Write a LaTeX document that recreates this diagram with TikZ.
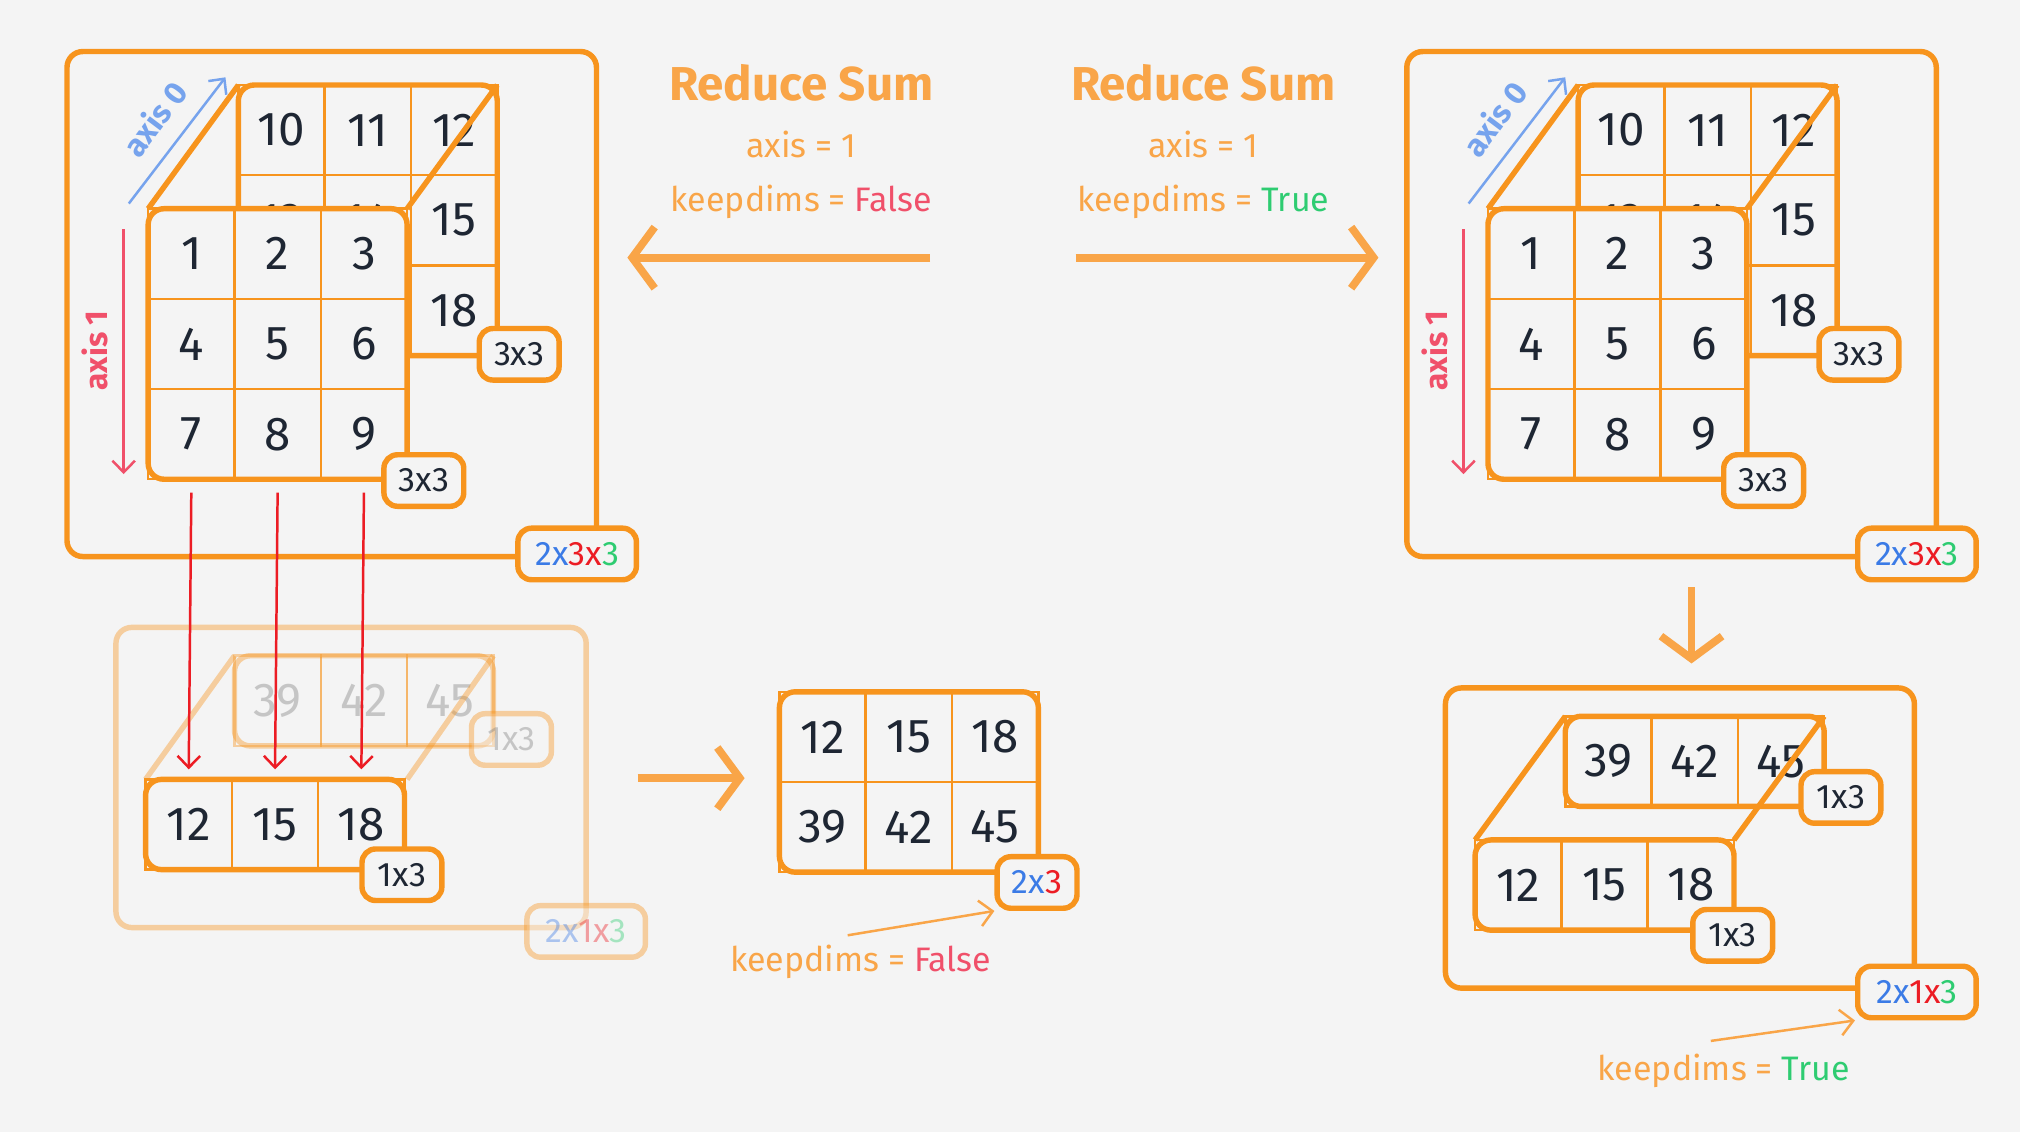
\documentclass[tikz,border=0pt]{standalone}
\usepackage{fontspec}
\setmainfont{Fira Sans}
\usetikzlibrary{positioning,arrows.meta}
\definecolor{bgc}{HTML}{F4F4F4}
\definecolor{corange}{HTML}{F7941D}
\definecolor{ctext}{HTML}{F9A548}
\definecolor{cblue}{HTML}{3B7BE6}
\definecolor{cred}{HTML}{EC1C24}
\definecolor{cpink}{HTML}{F0506A}
\definecolor{cgreen}{HTML}{2ECC71}
\definecolor{cnum}{HTML}{1E2633}

\tikzset{
  num/.style={minimum width=1.34cm,minimum height=1.4cm,inner sep=0pt,font=\fontsize{21}{24}\selectfont,text=cnum},
  cell/.style={draw=corange,line width=1.1pt},
  box/.style={draw=corange,line width=2.4pt,rounded corners=7pt},
  tag/.style={draw=corange,line width=2.4pt,rounded corners=6pt,fill=bgc,minimum width=1.24cm,minimum height=0.8cm,inner sep=1pt,font=\fontsize{15}{17}\selectfont,text=cnum},
  bigtag/.style={tag,minimum width=1.84cm},
  bigarr/.style={draw=ctext,line width=3.4pt,-{Straight Barb[length=0.35cm,width=0.95cm,line width=3.4pt]}},
  thinarr/.style={draw=ctext,line width=1.1pt,-{Straight Barb[length=0.2cm,width=0.4cm]}},
  redarr/.style={draw=cred,line width=1.1pt,-{Straight Barb[length=0.18cm,width=0.35cm]}},
  info/.style={text=ctext,font=\fontsize{15}{17}\selectfont},
  title/.style={text=ctext,font=\fontsize{21}{24}\bfseries\selectfont}
}

% grid of numbered cells: name, x, y, columns, rows, numbers
\newcommand{\cellgrid}[6]{%
  \fill[bgc,rounded corners=7pt] (#2,#3) rectangle ++({67*#4},{70*#5});
  \foreach \n [count=\k from 0] in {#6}{
    \pgfmathtruncatemacro\cc{mod(\k,#4)}
    \pgfmathtruncatemacro\rr{div(\k,#4)}
    \draw[cell] ({#2+67*\cc},{#3+70*\rr}) rectangle ++(67,70);
    \node[num] (#1-\k) at ({#2+67*\cc+33.5},{#3+70*\rr+35}) {\n};
  }
  \draw[box] (#2,#3) rectangle ++({67*#4},{70*#5});
  \coordinate (#1-tl) at (#2,#3);
  \coordinate (#1-tr) at ({#2+67*#4},#3);
}
\newcommand{\shapetag}[3]{{\color{cblue}#1}{\color{cred}#2}{\color{cgreen}#3}}

\begin{document}
\begin{tikzpicture}[x=0.02cm,y=-0.02cm]
\fill[bgc] (0,0) rectangle (1568,879);
\useasboundingbox (0,0) rectangle (1568,879);

% ---- left top: input tensor
\draw[box] (52,40) rectangle (463,432);
\cellgrid{lb}{185}{66}{3}{3}{10,11,12,13,14,15,16,17,18}
\draw[box] (lb-tl) -- (115,162) (lb-tr) -- (316,162);
\cellgrid{lf}{115}{162}{3}{3}{1,2,3,4,5,6,7,8,9}
\node[tag] (lbt) at (403,275) {3x3};
\node[tag] (lft) at (329,373) {3x3};
\node[bigtag] (lt) at (448,430) {\shapetag{2x}{3x}{3}};
\coordinate (la0) at (100,158);
\coordinate (la1) at (175,60);
\draw[draw=cblue!70,line width=1.1pt,-{Straight Barb[length=0.18cm,width=0.35cm]}] (la0) -- (la1);
\node[text=cblue!70,font=\fontsize{14}{16}\bfseries\selectfont,rotate=53] at (120,92) {axis 0};
\coordinate (lb0) at (96,178);
\coordinate (lb1) at (96,368);
\draw[draw=cpink,line width=1.1pt,-{Straight Barb[length=0.18cm,width=0.35cm]}] (lb0) -- (lb1);
\node[text=cpink,font=\fontsize{14}{16}\bfseries\selectfont,rotate=90] at (74,272) {axis 1};

% ---- right top: input tensor
\draw[box] (1092,40) rectangle (1503,432);
\cellgrid{rb}{1225}{66}{3}{3}{10,11,12,13,14,15,16,17,18}
\draw[box] (rb-tl) -- (1155,162) (rb-tr) -- (1356,162);
\cellgrid{rf}{1155}{162}{3}{3}{1,2,3,4,5,6,7,8,9}
\node[tag] (rbt) at (1443,275) {3x3};
\node[tag] (rft) at (1369,373) {3x3};
\node[bigtag] (rt) at (1488,430) {\shapetag{2x}{3x}{3}};
\coordinate (ra0) at (1140,158);
\coordinate (ra1) at (1215,60);
\draw[draw=cblue!70,line width=1.1pt,-{Straight Barb[length=0.18cm,width=0.35cm]}] (ra0) -- (ra1);
\node[text=cblue!70,font=\fontsize{14}{16}\bfseries\selectfont,rotate=53] at (1160,92) {axis 0};
\coordinate (rb0) at (1136,178);
\coordinate (rb1) at (1136,368);
\draw[draw=cpink,line width=1.1pt,-{Straight Barb[length=0.18cm,width=0.35cm]}] (rb0) -- (rb1);
\node[text=cpink,font=\fontsize{14}{16}\bfseries\selectfont,rotate=90] at (1114,272) {axis 1};

% ---- titles
\node[title] (t1) at (622,64) {Reduce Sum};
\node[info] (a1) at (622,112) {axis = 1};
\node[info] (k1) at (622,157) {keepdims = {\color{cpink}False}};
\node[title] (t2) at (934,64) {Reduce Sum};
\node[info] (a2) at (934,112) {axis = 1};
\node[info] (k2) at (934,157) {keepdims = {\color{cgreen}True}};
\coordinate (p1) at (722,200);
\coordinate (p2) at (487,200);
\coordinate (p3) at (835,200);
\coordinate (p4) at (1070,200);
\draw[bigarr] (p1) -- (p2);
\draw[bigarr] (p3) -- (p4);

% ---- left bottom: faded intermediate
\begin{scope}[opacity=0.4]
\draw[box] (90,487) rectangle (455,720);
\cellgrid{mb}{182}{509}{3}{1}{{\color{gray}39},{\color{gray}42},{\color{gray}45}}
\draw[box] (mb-tl) -- (113,605) (mb-tr) -- (316,605);
\node[tag,text=gray] (mbt) at (397,574) {1x3};
\node[bigtag] (mt) at (455,723) {\shapetag{2x}{1x}{3}};
\end{scope}
\cellgrid{mf}{113}{605}{3}{1}{12,15,18}
\node[tag] (mft) at (312,679) {1x3};
\foreach \k in {0,1,2}{
  \pgfmathtruncatemacro\s{\k+6}
  \draw[redarr] ([yshift=-0.2cm]lf-\s.south) -- ([yshift=0.15cm]mf-\k.north);
}
\coordinate (p5) at (495,604);
\coordinate (p6) at (578,604);
\draw[bigarr] (p5) -- (p6);

% ---- middle: keepdims = False result
\cellgrid{k}{605}{537}{3}{2}{12,15,18,39,42,45}
\node[tag] (kt) at (805,685) {\shapetag{2x}{3}{}};
\node[info] (kf) at (668,747) {keepdims = {\color{cpink}False}};
\coordinate (p7) at (658,726);
\draw[thinarr] (p7) -- (kt.south west);

% ---- right bottom: keepdims = True result
\coordinate (p8) at (1313,456);
\coordinate (p9) at (1313,515);
\draw[bigarr] (p8) -- (p9);
\draw[box] (1122,534) rectangle (1486,767);
\cellgrid{tb}{1215}{556}{3}{1}{39,42,45}
\draw[box] (tb-tl) -- (1145,652) (tb-tr) -- (1346,652);
\cellgrid{tf}{1145}{652}{3}{1}{12,15,18}
\node[tag] (tbt) at (1429,619) {1x3};
\node[tag] (tft) at (1345,726) {1x3};
\node[bigtag] (tt) at (1488,770) {\shapetag{2x}{1x}{3}};
\node[info] (kt2) at (1338,831) {keepdims = {\color{cgreen}True}};
\coordinate (p10) at (1328,808);
\draw[thinarr] (p10) -- (tt.south west);
\end{tikzpicture}
\end{document}
